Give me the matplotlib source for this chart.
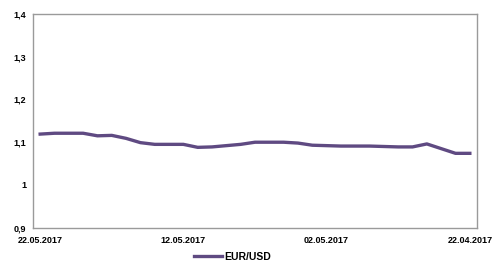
import matplotlib
matplotlib.use("Agg")
import matplotlib.pyplot as plt

# Daily values from 22.05.2017 (left) back to 22.04.2017 (right)
dates = ["22.05.2017", "21.05.2017", "20.05.2017", "19.05.2017", "18.05.2017",
         "17.05.2017", "16.05.2017", "15.05.2017", "14.05.2017", "13.05.2017",
         "12.05.2017", "11.05.2017", "10.05.2017", "09.05.2017", "08.05.2017",
         "07.05.2017", "06.05.2017", "05.05.2017", "04.05.2017", "03.05.2017",
         "02.05.2017", "01.05.2017", "30.04.2017", "29.04.2017", "28.04.2017",
         "27.04.2017", "26.04.2017", "25.04.2017", "24.04.2017", "23.04.2017",
         "22.04.2017"]
eurusd = [1.119, 1.121, 1.121, 1.121, 1.115, 1.116, 1.109, 1.099, 1.095, 1.095,
          1.095, 1.088, 1.089, 1.092, 1.095, 1.100, 1.100, 1.100, 1.098, 1.093,
          1.092, 1.091, 1.091, 1.091, 1.090, 1.089, 1.089, 1.096, 1.085, 1.074,
          1.074]
shown_labels = ["22.05.2017", "12.05.2017", "02.05.2017", "22.04.2017"]
y_ticks = [0.9, 1.0, 1.1, 1.2, 1.3, 1.4]
y_tick_labels = ["0,9", "1", "1,1", "1,2", "1,3", "1,4"]

plt.rcParams['font.family'] = ['Liberation Sans', 'DejaVu Sans']

fig = plt.figure(figsize=(4.93, 2.64), dpi=100)
ax = fig.add_axes([33/493, 1 - 227.7/264, (477-33)/493, (227.7-14)/264])

x = list(range(len(dates)))
line, = ax.plot(x, eurusd, color='#5f4a82', lw=2.4, solid_joinstyle='round',
                label='EUR/USD')

ax.set_xlim(-0.5, len(dates) - 0.5)
ax.set_ylim(0.9, 1.4)
ax.set_yticks(y_ticks)
ax.set_yticklabels(y_tick_labels, fontsize=6.5, fontweight='bold')
pos = [dates.index(d) for d in shown_labels]
ax.set_xticks(pos)
ax.set_xticklabels(shown_labels, fontsize=6.5, fontweight='bold')
ax.tick_params(axis='both', length=0)
ax.tick_params(axis='x', pad=6)
ax.tick_params(axis='y', pad=5)
for s in ax.spines.values():
    s.set_color('#9a9a9a')
    s.set_linewidth(1.0)

fig.legend(handles=[line], loc='center', bbox_to_anchor=(0.472, 0.028),
           frameon=False, prop={'size': 7.5, 'weight': 'bold'},
           handlelength=2.7, handletextpad=0.2)

fig.savefig('out.png', dpi=100)
